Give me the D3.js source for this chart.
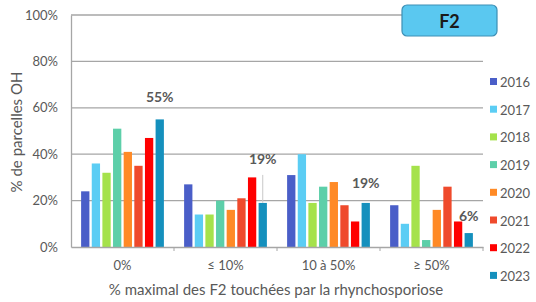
<!DOCTYPE html>
<html>
<head>
<meta charset="utf-8">
<script src="https://cdn.jsdelivr.net/npm/d3@7"></script>
<style>
  body { margin: 0; background: #fff; }
  text { font-family: Lato, "Open Sans", sans-serif; fill: #595959; }
</style>
</head>
<body>
<script>
// chart data
const categories = ['0%', '≤ 10%', '10 à 50%', '≥ 50%']
const years = ['2016', '2017', '2018', '2019', '2020', '2021', '2022', '2023']
const colors = ['#4a5ec8', '#5bcdf4', '#a5e24b', '#5dcfa9', '#ff8a26', '#ef4a2c', '#ff0000', '#1590bd']
const values = [
  [24, 27, 31, 18], // 2016
  [36, 14, 40, 10], // 2017
  [32, 14, 19, 35], // 2018
  [51, 20, 26, 3],  // 2019
  [41, 16, 28, 16], // 2020
  [35, 21, 18, 26], // 2021
  [47, 30, 11, 11], // 2022
  [55, 19, 19, 6]   // 2023
]
const labels2023 = ['55%', '19%', '19%', '6%']
const yTicks = [0, 20, 40, 60, 80, 100]

const width = 536
const height = 302
const margin = { left: 71, right: 53, top: 15, bottom: 55 }

const svg = d3.select('body')
  .append('svg')
  .attr('width', width)
  .attr('height', height)

const x0 = d3.scaleBand()
  .domain(categories)
  .range([margin.left, width - margin.right])
const x1 = d3.scaleBand()
  .domain(years)
  .range([0, x0.bandwidth()])
  .paddingOuter(0.95)
  .paddingInner(0.22)
const y = d3.scaleLinear()
  .domain([0, 100])
  .range([height - margin.bottom, margin.top])

// gridlines
svg.append('g')
  .selectAll('line')
  .data(yTicks.filter(d => d > 0))
  .enter()
  .append('line')
  .attr('x1', margin.left)
  .attr('x2', width - margin.right)
  .attr('y1', d => y(d))
  .attr('y2', d => y(d))
  .attr('stroke', '#a6a6a6')
  .attr('stroke-width', 1.3)

// y axis
const yAxis = svg.append('g')
  .attr('transform', `translate(${margin.left},0)`)
  .call(d3.axisLeft(y).tickValues(yTicks).tickFormat(d => d + '%').tickSize(0).tickPadding(13))
yAxis.select('.domain').attr('stroke', '#a6a6a6').attr('stroke-width', 1.3)
yAxis.selectAll('text')
  .style('font-family', 'Lato, sans-serif')
  .attr('font-size', 13)
  .attr('fill', '#595959')

// bars
svg.append('g')
  .selectAll('g')
  .data(years)
  .enter()
  .append('g')
  .attr('fill', (d, i) => colors[i])
  .selectAll('rect')
  .data((d, i) => categories.map((c, j) => ({ year: d, cat: c, value: values[i][j] })))
  .enter()
  .append('rect')
  .attr('x', d => x0(d.cat) + x1(d.year))
  .attr('width', x1.bandwidth())
  .attr('y', d => y(d.value))
  .attr('height', d => y(0) - y(d.value))

// x axis
const xAxis = svg.append('g')
  .attr('transform', `translate(0,${y(0)})`)
  .call(d3.axisBottom(x0).tickSize(0).tickPadding(14))
xAxis.select('.domain').attr('stroke', '#a6a6a6').attr('stroke-width', 1.3)
xAxis.selectAll('text')
  .style('font-family', 'Lato, sans-serif')
  .attr('font-size', 13)
  .attr('fill', '#595959')
svg.append('g')
  .selectAll('line')
  .data(categories)
  .enter()
  .append('line')
  .attr('x1', d => x0(d) + x0.bandwidth())
  .attr('x2', d => x0(d) + x0.bandwidth())
  .attr('y1', y(0))
  .attr('y2', y(0) + 4)
  .attr('stroke', '#a6a6a6')

// 2023 value labels (offsets from the top of the 2023 bar)
const lastYear = years[years.length - 1]
const labelOffsets = [
  { dy: -17, leader: false },
  { dy: -39, leader: true },
  { dy: -15, leader: false },
  { dy: -12, leader: false }
]
categories.forEach((c, j) => {
  const cx = x0(c) + x1(lastYear) + x1.bandwidth() / 2
  const top = y(values[7][j])
  const o = labelOffsets[j]
  if (o.leader) {
    svg.append('line')
      .attr('x1', cx).attr('x2', cx)
      .attr('y1', top + o.dy + 11).attr('y2', top)
      .attr('stroke', '#c8c8c8')
  }
  svg.append('text')
    .attr('x', cx)
    .attr('y', top + o.dy)
    .attr('text-anchor', 'middle')
    .attr('font-size', 14)
    .attr('font-weight', 'bold')
    .attr('fill', '#5f5f5f')
    .text(labels2023[j])
})

// axis titles
svg.append('text')
  .attr('transform', `translate(22,132) rotate(-90)`)
  .attr('text-anchor', 'middle')
  .attr('font-size', 15)
  .text('% de parcelles OH')
svg.append('text')
  .attr('x', 276)
  .attr('y', 295)
  .attr('text-anchor', 'middle')
  .attr('font-size', 15)
  .text('% maximal des F2 touchées par la rhynchosporiose')

// legend
const legend = svg.append('g')
  .selectAll('g')
  .data(years)
  .enter()
  .append('g')
  .attr('transform', (d, i) => `translate(490,${82 + i * 27.7})`)
legend.append('rect')
  .attr('x', 0).attr('y', -4)
  .attr('width', 7).attr('height', 7)
  .attr('fill', (d, i) => colors[i])
legend.append('text')
  .attr('x', 10).attr('y', 5)
  .attr('font-size', 13)
  .text(d => d)

// F2 box
svg.append('rect')
  .attr('x', 402).attr('y', 5)
  .attr('width', 95).attr('height', 31)
  .attr('rx', 5)
  .attr('fill', '#5ac8f0')
  .attr('stroke', '#3d8fb5')
  .attr('stroke-width', 1.2)
svg.append('text')
  .attr('x', 449.5).attr('y', 28)
  .attr('text-anchor', 'middle')
  .attr('font-size', 18)
  .attr('font-weight', 'bold')
  .style('fill', '#1a1a1a')
  .text('F2')
</script>
</body>
</html>
